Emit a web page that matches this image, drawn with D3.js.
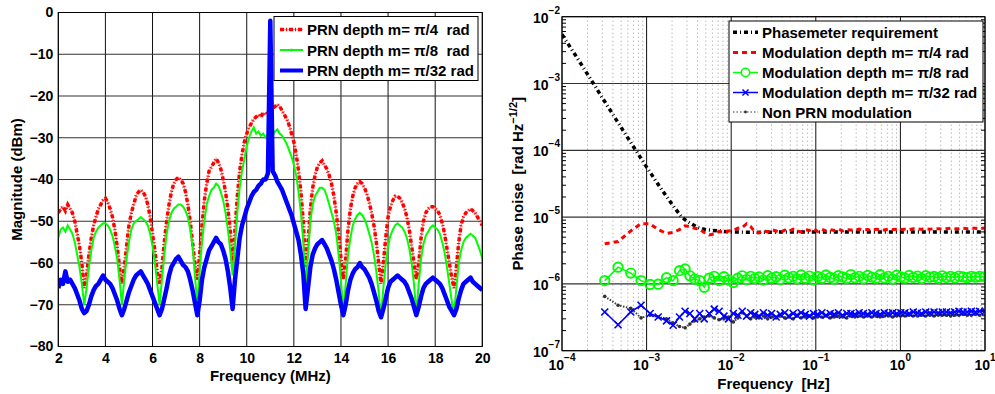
<!DOCTYPE html>
<html>
<head>
<meta charset="utf-8">
<script src="https://cdn.jsdelivr.net/npm/d3@7"></script>
<style>
  body { margin: 0; background: #fff; }
  svg text { font-family: "Liberation Sans", Arial, Helvetica, sans-serif; font-weight: bold; fill: #000; }
</style>
</head>
<body>
<svg id="chart" width="995" height="394"></svg>
<script>
// ---------------- left panel: RF spectrum, one sample every 0.1 MHz from 2 to 20 MHz
const specStartMHz = 2;
const specStepMHz = 0.1;

const prnPi4 = [
  -48, -47, -46.5, -47.5, -46, -47, -48, -50, -53, -56,
  -60, -66, -63, -58, -54, -51, -49, -47, -46, -45,
  -44.5, -45.5, -47, -49, -52, -56, -61, -65, -61, -56,
  -51, -48, -46, -44, -43, -42.5, -43, -44, -46, -49,
  -53, -57, -62, -65, -61, -55, -50, -46, -43, -41,
  -40, -39.5, -40, -41, -43, -46, -50, -55, -60, -64,
  -58, -51, -45, -41, -38, -37, -36, -35, -36, -37.5,
  -40, -43, -47, -52, -61, -52, -44, -38, -34, -31,
  -29, -27.5, -26.5, -25.5, -25, -24.5, -25, -24, -24.5, -24,
  -23.5, -23, -22.5, -22, -22.5, -23.5, -24.5, -25.5, -27, -29,
  -31, -34, -38, -43, -50, -61, -55, -47, -42, -39,
  -37, -36, -35.5, -36.5, -37.5, -39, -41, -44, -48, -53,
  -59, -64, -59, -52, -47, -44, -42, -41, -40.5, -41,
  -42, -43.5, -45.5, -48, -51, -55, -60, -65, -60, -54,
  -49, -46.5, -45, -44, -44, -44.5, -45.5, -47, -49, -52,
  -56, -60, -64, -60, -54, -50, -48, -47, -46.5, -46.5,
  -47, -47.5, -48.5, -50.5, -53, -56.5, -60, -63.5, -66, -61,
  -55, -51, -49, -48, -47.5, -47, -47.5, -48, -49, -50,
  -51
];

const prnPi8 = [
  -54, -52, -51.5, -52.5, -51, -52, -53, -55, -58, -61,
  -65, -70, -66, -61, -57, -54, -52.5, -51.5, -51, -50.5,
  -50.5, -51, -52, -53.5, -56, -59, -64, -70, -64, -59,
  -55, -52, -50.5, -50, -49.5, -49, -49.5, -50, -51, -53,
  -56, -60, -65, -70, -64, -58, -53, -50, -48, -47,
  -46.5, -46, -46, -46.5, -47.5, -49, -52, -56, -63, -70,
  -62, -55, -50, -46, -44, -42.5, -42, -41, -41.5, -43,
  -45, -48, -52, -57, -63, -56, -48, -42, -38, -35,
  -32, -30, -28.5, -27.5, -29, -28.5, -29.5, -29, -30, -29,
  -29, -29.5, -28.5, -28, -29, -29.5, -30.5, -31.5, -33, -34.5,
  -36.5, -39, -43, -48, -55, -66, -58, -50, -46, -44,
  -43, -42, -42, -42.5, -44, -46, -48, -50, -53, -58,
  -64, -72, -65, -58, -54, -51, -49.5, -48.5, -48, -48.5,
  -49.5, -51, -53, -55, -58, -62, -67, -73, -66, -60,
  -56, -53.5, -52, -51, -50.5, -51, -51.5, -52.5, -54, -56.5,
  -60, -65, -72, -65, -59, -55.5, -53.5, -52.5, -51.5, -51,
  -51.5, -52, -53, -55, -57.5, -61, -65, -69, -72, -66,
  -60, -57, -55, -54, -53.5, -53, -53.5, -54, -55.5, -57,
  -59
];

const prnPi32 = [
  -66, -64, -65, -62, -64.5, -64, -65, -66, -67.5, -69,
  -71, -72, -71.5, -70, -68, -66.5, -65.5, -65, -64, -63,
  -64, -64.5, -65, -66, -67.5, -69, -71, -72.5, -71, -69,
  -67, -65.5, -64, -63, -62.5, -62, -63, -64, -65, -66.5,
  -68, -69.5, -71, -72.5, -71, -68.5, -66, -63, -61, -60,
  -59, -58.5, -59.5, -60.5, -61, -62, -64, -66.5, -69.5, -72.5,
  -69, -64, -61, -59, -57, -56, -55, -54, -55, -55.5,
  -57, -59, -62, -66, -71, -64, -59, -54, -51, -49,
  -47, -45.5, -44, -43, -42.5, -41.5, -41, -40, -40, -38.5,
  -2, -38, -39, -40.5, -41.5, -42.5, -44, -45.5, -47, -48.5,
  -50.5, -52.5, -54.5, -58, -62.5, -71, -66, -61, -58, -56.5,
  -55.5, -55, -54.5, -55.5, -56.5, -58, -59.5, -61.5, -64, -67,
  -70, -72.5, -70, -66.5, -64, -62.5, -61.5, -61, -60, -61,
  -61.5, -62.5, -63.5, -65, -67, -69, -71.5, -73, -71, -68.5,
  -66, -64.5, -64, -63.5, -63, -63.5, -64, -64.5, -65.5, -67,
  -68.5, -70.5, -72.5, -70.5, -68, -66, -65, -64.5, -64, -63.5,
  -64, -64.5, -65, -66, -67.5, -69, -70.5, -71.5, -72.5, -71,
  -68.5, -66.5, -65, -64.5, -64, -63.5, -64.5, -65, -65.5, -66,
  -66.5
];

const specXTicks = [2, 4, 6, 8, 10, 12, 14, 16, 18, 20];
const specYTicks = [0, -10, -20, -30, -40, -50, -60, -70, -80];
const specLegend = ["PRN depth m= \u03c0/4 \u00a0rad", "PRN depth m= \u03c0/8 \u00a0rad", "PRN depth m= \u03c0/32 rad"];

// ---------------- right panel: phase noise (values in 1e-6 rad/sqrt(Hz))
const reqFreq = [1e-4, 1.5e-4, 2e-4, 3e-4, 5e-4, 7e-4, 1e-3, 1.5e-3, 2e-3, 2.6e-3,
  3e-3, 4e-3, 5e-3, 7e-3, 1e-2, 2e-2, 5e-2, 0.1, 1, 10];
const reqNoise = [5400, 2450, 1380, 610, 220, 113, 56, 26, 15.5, 10,
  8.7, 7.0, 6.5, 6.2, 6.0, 5.9, 6.0, 6.0, 6.0, 6.0];

const psdFreq = [
  3.2e-4, 4.6e-4, 6.5e-4, 8.6e-4, 1.1e-3, 1.37e-3, 1.72e-3, 2.06e-3, 2.45e-3, 2.85e-3,
  3.25e-3, 3.7e-3, 4.25e-3, 4.8e-3, 5.5e-3, 6.3e-3, 7.2e-3, 8.2e-3, 9.3e-3, 0.0106,
  0.012, 0.0135, 0.0152, 0.017, 0.019, 0.0213, 0.024, 0.027, 0.030, 0.034,
  0.038, 0.043, 0.048, 0.054, 0.060, 0.067, 0.075, 0.084, 0.094, 0.105,
  0.118, 0.132, 0.148, 0.165, 0.185, 0.207, 0.232, 0.26, 0.29, 0.325,
  0.365, 0.41, 0.46, 0.515, 0.575, 0.645, 0.72, 0.81, 0.905, 1.01,
  1.13, 1.27, 1.42, 1.59, 1.78, 1.99, 2.23, 2.5, 2.8, 3.13,
  3.5, 3.92, 4.39, 4.92, 5.5, 6.16, 6.9, 7.72, 8.65, 10
];
const modPi4 = [
  4.0, 4.3, 6.2, 8.0, 7.9, 6.5, 5.7, 5.9, 6.5, 7.4,
  7.2, 6.8, 6.6, 5.9, 5.4, 5.6, 6.1, 5.9, 6.2, 6.3,
  6.8, 7.0, 7.9, 7.2, 6.0, 5.8, 6.3, 6.0, 6.5, 6.2,
  5.9, 6.4, 6.1, 6.6, 6.2, 6.0, 6.5, 6.3, 6.7, 6.1,
  6.6, 6.2, 6.5, 6.3, 6.6, 6.2, 6.5, 6.4, 6.3, 6.6,
  6.4, 6.5, 6.3, 6.6, 6.5, 6.4, 6.6, 6.5, 6.6, 6.5,
  6.6, 6.5, 6.7, 6.6, 6.6, 6.7, 6.6, 6.7, 6.7, 6.6,
  6.7, 6.8, 6.7, 6.7, 6.8, 6.7, 6.8, 6.8, 6.7, 6.9
];
const modPi8 = [
  1.12, 1.78, 1.45, 1.12, 0.98, 0.99, 1.24, 1.12, 1.58, 1.67,
  1.32, 1.18, 1.12, 0.89, 1.22, 1.30, 1.12, 1.28, 1.15, 1.05,
  1.22, 1.32, 1.16, 1.30, 1.20, 1.27, 1.14, 1.33, 1.22, 1.28,
  1.17, 1.35, 1.24, 1.30, 1.19, 1.36, 1.22, 1.31, 1.15, 1.29,
  1.21, 1.36, 1.25, 1.18, 1.33, 1.27, 1.20, 1.38, 1.24, 1.30,
  1.19, 1.34, 1.26, 1.21, 1.37, 1.23, 1.30, 1.18, 1.35, 1.27,
  1.22, 1.34, 1.25, 1.31, 1.20, 1.33, 1.26, 1.29, 1.22, 1.32,
  1.25, 1.30, 1.23, 1.31, 1.27, 1.24, 1.30, 1.26, 1.29, 1.28
];
const modPi32 = [
  0.38, 0.245, 0.38, 0.48, 0.36, 0.32, 0.28, 0.24, 0.32, 0.39,
  0.36, 0.30, 0.36, 0.30, 0.36, 0.42, 0.39, 0.33, 0.30, 0.36,
  0.34, 0.39, 0.33, 0.37, 0.35, 0.33, 0.37, 0.34, 0.36, 0.32,
  0.35, 0.37, 0.33, 0.36, 0.34, 0.37, 0.35, 0.33, 0.36, 0.35,
  0.37, 0.34, 0.36, 0.35, 0.37, 0.34, 0.36, 0.36, 0.35, 0.37,
  0.36, 0.35, 0.37, 0.36, 0.35, 0.37, 0.36, 0.37, 0.36, 0.37,
  0.37, 0.36, 0.38, 0.37, 0.36, 0.38, 0.37, 0.38, 0.37, 0.38,
  0.38, 0.37, 0.38, 0.39, 0.38, 0.38, 0.39, 0.38, 0.39, 0.39
];
const nonPrn = [
  0.65, 0.48, 0.43, 0.31, 0.34, 0.32, 0.30, 0.26, 0.23, 0.22,
  0.25, 0.28, 0.30, 0.32, 0.33, 0.31, 0.29, 0.30, 0.32, 0.27,
  0.31, 0.37, 0.33, 0.30, 0.32, 0.31, 0.33, 0.30, 0.32, 0.31,
  0.33, 0.31, 0.32, 0.30, 0.33, 0.31, 0.32, 0.33, 0.31, 0.32,
  0.32, 0.33, 0.31, 0.32, 0.33, 0.32, 0.31, 0.33, 0.32, 0.33,
  0.32, 0.33, 0.32, 0.33, 0.32, 0.33, 0.33, 0.32, 0.33, 0.33,
  0.33, 0.34, 0.33, 0.33, 0.34, 0.33, 0.34, 0.33, 0.34, 0.34,
  0.34, 0.33, 0.34, 0.34, 0.35, 0.34, 0.34, 0.35, 0.34, 0.34
];
const noiseUnit = 1e-6;
const noiseXTicks = [1e-4, 1e-3, 1e-2, 1e-1, 1, 10];
const noiseYTicks = [1e-7, 1e-6, 1e-5, 1e-4, 1e-3, 1e-2];
const noiseLegend = ["Phasemeter requirement", "Modulation depth m= \u03c0/4 rad",
  "Modulation depth m= \u03c0/8 rad", "Modulation depth m= \u03c0/32 rad", "Non PRN modulation"];

const svg = d3.select("#chart");
const FONT = '"Liberation Sans", Arial, Helvetica, sans-serif';

// ================= left panel =================
const L = {left: 58.3, right: 482.3, top: 12.5, bottom: 346.5};
const xs = d3.scaleLinear().domain([2, 20]).range([L.left, L.right]);
const ys = d3.scaleLinear().domain([-80, 0]).range([L.bottom, L.top]);
const gl = svg.append("g");

svg.append("clipPath").attr("id", "clipL").append("rect")
  .attr("x", L.left).attr("y", L.top).attr("width", L.right - L.left).attr("height", L.bottom - L.top);

// grid
gl.selectAll(".vgrid").data(specXTicks).enter().append("line")
  .attr("x1", d => xs(d)).attr("x2", d => xs(d)).attr("y1", L.top).attr("y2", L.bottom)
  .attr("stroke", "#111").attr("stroke-width", 1);
gl.selectAll(".hgrid").data(specYTicks).enter().append("line")
  .attr("x1", L.left).attr("x2", L.right).attr("y1", d => ys(d)).attr("y2", d => ys(d))
  .attr("stroke", "#333").attr("stroke-width", 1.2);

const specLine = d3.line()
  .x((d, i) => xs(specStartMHz + i * specStepMHz))
  .y(d => ys(d));

const plotL = gl.append("g").attr("clip-path", "url(#clipL)");
plotL.append("path").datum(prnPi4).attr("d", specLine)
  .attr("fill", "none").attr("stroke", "#ff9a9a").attr("stroke-width", 1.5);
plotL.append("path").datum(prnPi4).attr("d", specLine)
  .attr("fill", "none").attr("stroke", "#ff0000").attr("stroke-width", 3.5)
  .attr("stroke-dasharray", "4,2,1,2");
plotL.append("path").datum(prnPi8).attr("d", specLine)
  .attr("fill", "none").attr("stroke", "#00ff00").attr("stroke-width", 2);
plotL.append("path").datum(prnPi32).attr("d", specLine)
  .attr("fill", "none").attr("stroke", "#0000ff").attr("stroke-width", 4.5)
  .attr("stroke-linejoin", "round");

// axes
gl.append("g").attr("transform", `translate(0,${L.bottom})`)
  .call(d3.axisBottom(xs).tickValues(specXTicks).tickSize(0).tickPadding(7).tickFormat(d3.format("d")))
  .call(g => g.select(".domain").remove())
  .attr("font-family", FONT).attr("font-size", 14).attr("font-weight", "bold");
gl.append("g").attr("transform", `translate(${L.left},0)`)
  .call(d3.axisLeft(ys).tickValues(specYTicks).tickSize(0).tickPadding(5).tickFormat(d3.format("d")))
  .call(g => g.select(".domain").remove())
  .attr("font-family", FONT).attr("font-size", 14).attr("font-weight", "bold");
gl.append("rect").attr("x", L.left).attr("y", L.top)
  .attr("width", L.right - L.left).attr("height", L.bottom - L.top)
  .attr("fill", "none").attr("stroke", "#000").attr("stroke-width", 1);

gl.append("text").attr("x", (L.left + L.right) / 2).attr("y", 381)
  .attr("text-anchor", "middle").attr("font-size", 15).text("Frequency (MHz)");
gl.append("text").attr("transform", `translate(22,${(L.top + L.bottom) / 2}) rotate(-90)`)
  .attr("text-anchor", "middle").attr("font-size", 15).text("Magnitude (dBm)");

// legend
const legL = gl.append("g");
legL.append("rect").attr("x", 274).attr("y", 16.5).attr("width", 204).attr("height", 64)
  .attr("fill", "#fff").attr("stroke", "#000").attr("stroke-width", 1);
const legLy = [29.5, 50, 70.5];
legL.append("line").attr("x1", 280).attr("x2", 303).attr("y1", legLy[0]).attr("y2", legLy[0])
  .attr("stroke", "#ff9a9a").attr("stroke-width", 1.5);
legL.append("line").attr("x1", 280).attr("x2", 303).attr("y1", legLy[0]).attr("y2", legLy[0])
  .attr("stroke", "#ff0000").attr("stroke-width", 3.5).attr("stroke-dasharray", "4,2,1,2");
legL.append("line").attr("x1", 280).attr("x2", 303).attr("y1", legLy[1]).attr("y2", legLy[1])
  .attr("stroke", "#00ff00").attr("stroke-width", 2);
legL.append("circle").attr("cx", 291.5).attr("cy", legLy[1]).attr("r", 1.5).attr("fill", "#00ff00");
legL.append("line").attr("x1", 280).attr("x2", 303).attr("y1", legLy[2]).attr("y2", legLy[2])
  .attr("stroke", "#0000ff").attr("stroke-width", 4);
legL.selectAll(".lt").data(specLegend).enter().append("text")
  .attr("x", 307).attr("y", (d, i) => legLy[i] + 5.5).attr("font-size", 15).text(d => d);

// ================= right panel =================
const R = {left: 562, right: 985, top: 16.7, bottom: 350.7};
const xr = d3.scaleLog().domain([1e-4, 10]).range([R.left, R.right]);
const yr = d3.scaleLog().domain([1e-7, 1e-2]).range([R.bottom, R.top]);
const gr = svg.append("g");

svg.append("clipPath").attr("id", "clipR").append("rect")
  .attr("x", R.left).attr("y", R.top).attr("width", R.right - R.left).attr("height", R.bottom - R.top);

const isDecade = v => Math.abs(Math.log10(v) - Math.round(Math.log10(v))) < 1e-9;
const xMinor = xr.ticks().filter(v => !isDecade(v));
const yMinor = yr.ticks().filter(v => !isDecade(v));

gr.selectAll(".mgrid").data(xMinor).enter().append("line")
  .attr("x1", d => xr(d)).attr("x2", d => xr(d)).attr("y1", R.top).attr("y2", R.bottom)
  .attr("stroke", "#9a9a9a").attr("stroke-width", 1).attr("stroke-dasharray", "1,3");
gr.selectAll(".vgrid").data(noiseXTicks).enter().append("line")
  .attr("x1", d => xr(d)).attr("x2", d => xr(d)).attr("y1", R.top).attr("y2", R.bottom)
  .attr("stroke", "#111").attr("stroke-width", 1);
gr.selectAll(".hgrid").data(noiseYTicks).enter().append("line")
  .attr("x1", R.left).attr("x2", R.right).attr("y1", d => yr(d)).attr("y2", d => yr(d))
  .attr("stroke", "#333").attr("stroke-width", 1.2);
// minor ticks
gr.selectAll(".ymt").data(yMinor).enter().append("path")
  .attr("d", d => `M${R.left},${yr(d)}h4M${R.right},${yr(d)}h-4`)
  .attr("stroke", "#000").attr("stroke-width", 1);

const noiseLine = d3.line().x(d => xr(d[0])).y(d => yr(d[1]));
const pairs = vals => psdFreq.map((f, i) => [f, vals[i] * noiseUnit]);
const plotR = gr.append("g").attr("clip-path", "url(#clipR)");

plotR.append("path").datum(reqFreq.map((f, i) => [f, reqNoise[i] * noiseUnit])).attr("d", noiseLine)
  .attr("fill", "none").attr("stroke", "#000").attr("stroke-width", 3.5)
  .attr("stroke-dasharray", "4,3,1,3");
plotR.append("path").datum(pairs(modPi4)).attr("d", noiseLine)
  .attr("fill", "none").attr("stroke", "#ff0000").attr("stroke-width", 3)
  .attr("stroke-dasharray", "5,4");
const g8 = pairs(modPi8);
plotR.append("path").datum(g8).attr("d", noiseLine)
  .attr("fill", "none").attr("stroke", "#00ff00").attr("stroke-width", 1.5);
plotR.selectAll(".m8").data(g8).enter().append("circle")
  .attr("cx", d => xr(d[0])).attr("cy", d => yr(d[1])).attr("r", 4.7)
  .attr("fill", "none").attr("stroke", "#00ff00").attr("stroke-width", 1.9);
const gNon = pairs(nonPrn);
plotR.append("path").datum(gNon).attr("d", noiseLine)
  .attr("fill", "none").attr("stroke", "#444").attr("stroke-width", 2)
  .attr("stroke-dasharray", "1.5,1.5");
plotR.selectAll(".mn").data(gNon).enter().append("circle")
  .attr("cx", d => xr(d[0])).attr("cy", d => yr(d[1])).attr("r", 1.8).attr("fill", "#333");
const g32 = pairs(modPi32);
plotR.append("path").datum(g32).attr("d", noiseLine)
  .attr("fill", "none").attr("stroke", "#0000ff").attr("stroke-width", 1.6);
plotR.selectAll(".m32").data(g32).enter().append("path")
  .attr("transform", d => `translate(${xr(d[0])},${yr(d[1])})`)
  .attr("d", "M-3.5,-3.5L3.5,3.5M-3.5,3.5L3.5,-3.5")
  .attr("stroke", "#0000ff").attr("stroke-width", 1.6);

gr.append("rect").attr("x", R.left).attr("y", R.top)
  .attr("width", R.right - R.left).attr("height", R.bottom - R.top)
  .attr("fill", "none").attr("stroke", "#000").attr("stroke-width", 1);

// tick labels as 10^n with superscripts
const expo = v => { const e = Math.round(Math.log10(v)); return e < 0 ? "\u2212" + (-e) : String(e); };
const xl = gr.selectAll(".xtl").data(noiseXTicks).enter().append("text")
  .attr("x", d => xr(d)).attr("y", 370).attr("text-anchor", "middle").attr("font-size", 14);
xl.append("tspan").text("10");
xl.append("tspan").attr("dy", -9).attr("font-size", 10).text(d => expo(d));
const yl = gr.selectAll(".ytl").data(noiseYTicks).enter().append("text")
  .attr("x", 560).attr("y", d => yr(d) + 6).attr("text-anchor", "end").attr("font-size", 14);
yl.append("tspan").text("10");
yl.append("tspan").attr("dy", -9).attr("font-size", 10).text(d => expo(d));

gr.append("text").attr("x", (R.left + R.right) / 2).attr("y", 389)
  .attr("text-anchor", "middle").attr("font-size", 15).text("Frequency \u00a0[Hz]");
const ylab = gr.append("text")
  .attr("transform", `translate(523,${(R.top + R.bottom) / 2}) rotate(-90)`)
  .attr("text-anchor", "middle").attr("font-size", 15);
ylab.append("tspan").text("Phase noise \u00a0[rad Hz");
ylab.append("tspan").attr("dy", -6).attr("font-size", 11).text("\u22121/2");
ylab.append("tspan").attr("dy", 6).text("]");

// legend
const legR = gr.append("g");
legR.append("rect").attr("x", 729).attr("y", 21).attr("width", 254).attr("height", 101)
  .attr("fill", "#fff").attr("stroke", "#000").attr("stroke-width", 1);
const legRy = [32.3, 52.5, 72.5, 92.5, 112];
const lx1 = 733, lx2 = 758, lxm = (lx1 + lx2) / 2;
legR.append("line").attr("x1", lx1).attr("x2", lx2).attr("y1", legRy[0]).attr("y2", legRy[0])
  .attr("stroke", "#000").attr("stroke-width", 3.5).attr("stroke-dasharray", "4,3,1,3");
legR.append("line").attr("x1", lx1).attr("x2", lx2).attr("y1", legRy[1]).attr("y2", legRy[1])
  .attr("stroke", "#ff0000").attr("stroke-width", 3).attr("stroke-dasharray", "5,4");
legR.append("line").attr("x1", lx1).attr("x2", lx2).attr("y1", legRy[2]).attr("y2", legRy[2])
  .attr("stroke", "#00ff00").attr("stroke-width", 1.5);
legR.append("circle").attr("cx", lxm).attr("cy", legRy[2]).attr("r", 4.2)
  .attr("fill", "#fff").attr("stroke", "#00ff00").attr("stroke-width", 1.6);
legR.append("line").attr("x1", lx1).attr("x2", lx2).attr("y1", legRy[3]).attr("y2", legRy[3])
  .attr("stroke", "#0000ff").attr("stroke-width", 1.5);
legR.append("path").attr("transform", `translate(${lxm},${legRy[3]})`)
  .attr("d", "M-3,-3L3,3M-3,3L3,-3").attr("stroke", "#0000ff").attr("stroke-width", 1.5);
legR.append("line").attr("x1", lx1).attr("x2", lx2).attr("y1", legRy[4]).attr("y2", legRy[4])
  .attr("stroke", "#777").attr("stroke-width", 1.5).attr("stroke-dasharray", "1.5,2");
legR.append("circle").attr("cx", lxm).attr("cy", legRy[4]).attr("r", 1.4).attr("fill", "#333");
legR.selectAll(".lt").data(noiseLegend).enter().append("text")
  .attr("x", 762).attr("y", (d, i) => legRy[i] + 5.5).attr("font-size", 15).text(d => d);
</script>
</body>
</html>
